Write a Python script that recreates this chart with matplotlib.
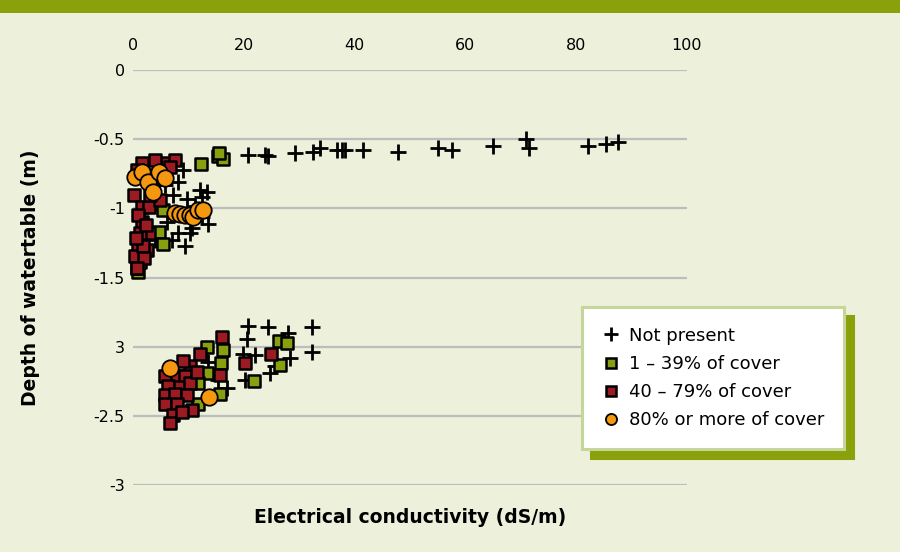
import matplotlib
matplotlib.use('Agg')
import matplotlib.pyplot as plt
from matplotlib.lines import Line2D
from matplotlib.patches import Rectangle

# Electrical conductivity (dS/m) vs depth of watertable (m), by cover class
np_x = [20.8, 23.8, 24.4, 29.2, 32.5, 33.8, 36.8, 37.7, 38.3, 41.5, 47.8, 55.1, 57.6,
        65.0, 71.0, 71.5, 82.1, 85.4, 87.5,
        9.0, 8.1, 13.4, 12.5, 13.5, 10.6, 8.1, 7.0, 12.5, 6.1, 7.2, 9.7, 4.5, 12.1,
        10.3, 4.9, 5.8, 11.2, 3.1, 4.0, 9.4,
        20.8, 24.4, 32.3, 32.3, 20.6, 19.9, 22.0, 28.0, 28.3, 24.7, 25.6, 20.2,
        13.5, 17.0, 15.3]
np_y = [-0.61, -0.61, -0.62, -0.60, -0.59, -0.56, -0.58, -0.58, -0.58, -0.58, -0.59,
        -0.56, -0.58, -0.55, -0.50, -0.56, -0.55, -0.535, -0.52,
        -0.72, -0.81, -0.88, -0.92, -1.11, -1.14, -1.18, -1.23, -1.06, -1.10, -0.90,
        -0.93, -0.74, -0.87, -1.18, -0.98, -0.83, -0.98, -0.80, -1.23, -1.27,
        -1.85, -1.86, -1.86, -2.04, -1.94, -2.05, -2.06, -1.90, -2.08, -2.19, -2.14,
        -2.24, -2.11, -2.30, -2.24]

low_x = [12.3, 15.3, 16.2, 15.5, 5.4, 4.7, 5.4, 0.9, 0.6,
         13.4, 16.2, 15.9, 13.4, 15.7, 11.7, 11.7, 21.8, 26.4, 27.8, 26.5]
low_y = [-0.68, -0.62, -0.64, -0.60, -1.01, -1.17, -1.26, -1.46, -1.43,
         -2.00, -2.02, -2.12, -2.19, -2.34, -2.41, -2.26, -2.25, -1.96, -1.97, -2.13]

mid_x = [0.2, 6.1, 7.6, 1.6, 2.9, 1.6, 2.9, 1.3, 0.9, 2.5, 1.3, 0.4, 4.9, 3.6, 1.8,
         6.7, 1.6, 4.0, 0.7, 2.2, 3.1, 0.9, 2.3, 0.5, 2.0, 0.7,
         16.1, 12.1, 10.3, 5.8, 7.9, 9.4, 15.7, 6.3, 8.5, 10.3, 5.8, 7.6, 9.7, 5.8,
         7.9, 10.6, 7.2, 8.8, 6.7, 20.2, 24.9, 11.6, 9.0]
mid_y = [-0.90, -0.67, -0.65, -0.99, -0.99, -1.10, -1.18, -1.18, -1.27, -1.30, -1.39,
         -1.34, -0.94, -0.85, -1.27, -0.70, -0.67, -0.65, -0.72, -0.76, -0.90, -1.05,
         -1.12, -1.21, -1.36, -1.43,
         -1.93, -2.05, -2.14, -2.21, -2.21, -2.21, -2.20, -2.28, -2.29, -2.26, -2.35,
         -2.34, -2.35, -2.41, -2.41, -2.46, -2.49, -2.47, -2.55, -2.12, -2.05, -2.18,
         -2.10]

high_x = [0.4, 1.6, 2.7, 4.7, 5.8, 3.6, 7.6, 8.5, 9.4, 10.3, 10.8, 11.7, 12.6, 6.7, 13.7]
high_y = [-0.77, -0.74, -0.81, -0.74, -0.78, -0.88, -1.03, -1.04, -1.05, -1.05, -1.06,
          -1.01, -1.01, -2.15, -2.36]

x_ticks = [0, 20, 40, 60, 80, 100]
y_ticks = [0, -0.5, -1, -1.5, -2, -2.5, -3]
y_tick_labels = ['0', '-0.5', '-1', '-1.5', '3', '-2.5', '-3']
labels = ['Not present', '1 \u2013 39% of cover', '40 \u2013 79% of cover', '80% or more of cover']

bg = '#edf0da'
olive = '#8aa10b'
green = '#86a010'
red = '#9c1b22'
orange = '#f5970f'

plt.rcParams['font.family'] = ['DejaVu Sans']

fig = plt.figure(figsize=(9, 5.52), dpi=100, facecolor=bg)
fig.patches.append(Rectangle((0, 1 - 13 / 552), 1, 13 / 552, transform=fig.transFigure,
                             facecolor=olive, edgecolor='none', zorder=0))

ax = fig.add_axes([0.148, 0.121, 0.615, 0.752])
ax.set_facecolor(bg)

ax.scatter(np_x, np_y, marker='+', s=130, color='black', linewidths=2, zorder=3,
           clip_on=False)
ax.scatter(low_x, low_y, marker='s', s=75, facecolor=green, edgecolor='black',
           linewidths=1.8, zorder=4, clip_on=False)
ax.scatter(mid_x, mid_y, marker='s', s=75, facecolor=red, edgecolor='black',
           linewidths=1.8, zorder=5, clip_on=False)
ax.scatter(high_x, high_y, marker='o', s=140, facecolor=orange, edgecolor='black',
           linewidths=1.3, zorder=6, clip_on=False)

ax.set_xlim(0, 100)
ax.set_ylim(-3, 0)
ax.set_xticks(x_ticks)
ax.set_yticks(y_ticks)
ax.set_yticklabels(y_tick_labels)
ax.xaxis.tick_top()
ax.tick_params(axis='both', length=0, labelsize=11.5)
ax.tick_params(axis='x', pad=12)
ax.tick_params(axis='y', pad=6)
ax.grid(axis='y', color='#bdbdbd', linewidth=1.6)
ax.set_axisbelow(True)
for s in ax.spines.values():
    s.set_visible(False)

ax.set_xlabel('Electrical conductivity (dS/m)', fontsize=13.5, fontweight='bold')
ax.xaxis.set_label_position('bottom')
ax.xaxis.set_label_coords(0.5, -0.055)
ax.set_ylabel('Depth of watertable (m)', fontsize=13.5, fontweight='bold')
ax.yaxis.set_label_coords(-0.168, 0.5)

handles = [
    Line2D([], [], linestyle='none', marker='+', markersize=10, markeredgewidth=2,
           color='black'),
    Line2D([], [], linestyle='none', marker='s', markersize=6.5, markerfacecolor=green,
           markeredgecolor='black', markeredgewidth=1.8),
    Line2D([], [], linestyle='none', marker='s', markersize=6.5, markerfacecolor=red,
           markeredgecolor='black', markeredgewidth=1.8),
    Line2D([], [], linestyle='none', marker='o', markersize=8, markerfacecolor=orange,
           markeredgecolor='black', markeredgewidth=1.3),
]
leg = fig.legend(handles, labels, loc='upper left', bbox_to_anchor=(0.647, 0.444),
                 fontsize=13, frameon=True, fancybox=False, facecolor='white',
                 edgecolor='#c6d59a', framealpha=1, borderpad=1.1, labelspacing=0.56,
                 handlelength=1.0, handletextpad=0.5, borderaxespad=0,
                 shadow={'ox': 6, 'oy': -6.5, 'facecolor': olive, 'edgecolor': olive,
                         'alpha': 1})
leg.get_frame().set_linewidth(2.2)

fig.savefig('out.png', dpi=100, facecolor=bg)
